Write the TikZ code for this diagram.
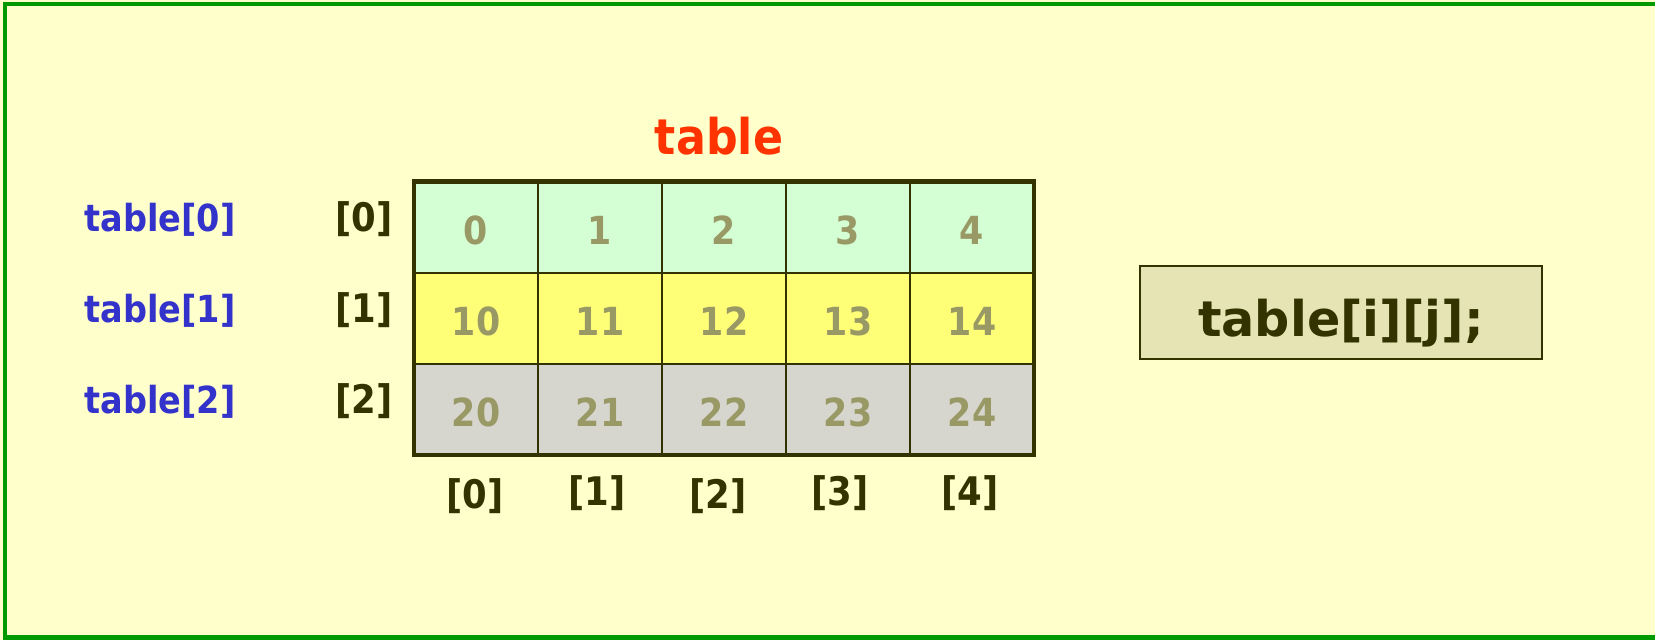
\documentclass[tikz,border=0pt]{standalone}
\usepackage{fontspec}
\setmainfont{DejaVu Sans}[FakeStretch=0.9]
\newfontfamily\codefont{DejaVu Sans}
\usepackage{xcolor}
\usetikzlibrary{positioning}

\definecolor{pagebg}{HTML}{FFFFCC}
\definecolor{framegreen}{HTML}{009900}
\definecolor{darkolive}{HTML}{333300}
\definecolor{cellgray}{HTML}{999966}
\definecolor{namblue}{HTML}{3333CC}
\definecolor{titlered}{HTML}{FF3300}
\definecolor{rowgreen}{HTML}{D4FFD4}
\definecolor{rowyellow}{HTML}{FFFF77}
\definecolor{rowgray}{HTML}{D6D6CE}
\definecolor{codefill}{HTML}{E6E3B4}

\begin{document}
\begin{tikzpicture}[
  x=0.01cm, y=-0.01cm,
  cell/.style={draw=darkolive, line width=0.6pt, minimum width=1.24cm, minimum height=0.912cm,
    inner sep=0pt, outer sep=0pt, text=cellgray, text height=0.34cm, text depth=-0.03cm,
    font=\fontsize{11}{13}\selectfont\bfseries},
  idx/.style={text=darkolive, inner sep=0pt, anchor=base, font=\fontsize{11.2}{14}\selectfont\bfseries},
  rowname/.style={text=namblue, inner sep=0pt, anchor=base west, font=\fontsize{10.6}{13}\selectfont\bfseries},
  title/.style={text=titlered, inner sep=0pt, anchor=base, font=\fontsize{14}{17}\selectfont\bfseries},
  codebox/.style={draw=darkolive, line width=0.6pt, fill=codefill, text=darkolive, inner sep=0pt,
    minimum width=4.02cm, minimum height=0.93cm, text height=0.68cm, text depth=0.2cm,
    font=\fontsize{14}{17}\selectfont\codefont\bfseries}
]
\useasboundingbox (0,0) rectangle (1655,640);
\fill[pagebg] (0,0) rectangle (1655,640);
\draw[framegreen, line width=1.4pt] (5,4) rectangle (1657.5,637.5);

% the 3 x 5 array
\foreach \r/\rowfill in {0/rowgreen,1/rowyellow,2/rowgray}
  \foreach \c in {0,...,4} {
    \pgfmathtruncatemacro\cellval{10*\r+\c}
    \node[cell, fill=\rowfill] (c-\r-\c) at (476+124*\c, 227.1+91.2*\r) {\cellval};
  }
\draw[darkolive, line width=1.2pt] (c-0-0.north west) rectangle (c-2-4.south east);

\node[title] (arrname) at (719,154.3) {table};

% row names and row indices
\node[rowname] (name0) at (84,232) {table[0]};
\node[rowname] (name1) at (84,323) {table[1]};
\node[rowname] (name2) at (84,413) {table[2]};
\node[idx] (row0) at (364,232) {[0]};
\node[idx] (row1) at (364,323) {[1]};
\node[idx] (row2) at (364,413) {[2]};

% column indices
\node[idx] (col0) at (475,508) {[0]};
\node[idx] (col1) at (597,505.4) {[1]};
\node[idx] (col2) at (718,508) {[2]};
\node[idx] (col3) at (840,505.4) {[3]};
\node[idx] (col4) at (970,505.4) {[4]};

\node[codebox] (access) at (1341,312.5) {table[i][j];};
\end{tikzpicture}
\end{document}
